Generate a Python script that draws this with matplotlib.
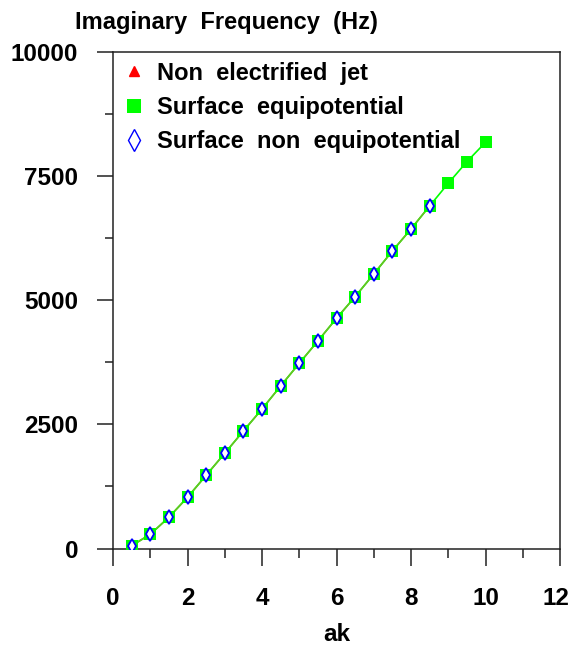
import matplotlib
matplotlib.use("Agg")
import matplotlib.pyplot as plt
import matplotlib.transforms as mtransforms
from matplotlib.lines import Line2D
from matplotlib.ticker import MultipleLocator

plt.rcParams['font.family'] = ['Liberation Sans', 'DejaVu Sans']
plt.rcParams['font.weight'] = 'bold'

# Data
ak_equi = [0.5, 1.0, 1.5, 2.0, 2.5, 3.0, 3.5, 4.0, 4.5, 5.0, 5.5, 6.0, 6.5, 7.0,
           7.5, 8.0, 8.5, 9.0, 9.5, 10.0]
freq_equi = [56, 286, 629, 1032, 1475, 1919, 2368, 2811, 3275, 3732, 4182, 4639,
             5075, 5532, 5996, 6439, 6903, 7360, 7795, 8186]
ak_nonequi = [0.5, 1.0, 1.5, 2.0, 2.5, 3.0, 3.5, 4.0, 4.5, 5.0, 5.5, 6.0, 6.5,
              7.0, 7.5, 8.0, 8.5]
freq_nonequi = [56, 286, 629, 1032, 1475, 1919, 2368, 2811, 3275, 3732, 4182,
                4639, 5075, 5532, 5996, 6439, 6903]
ak_nonelec = ak_nonequi
freq_nonelec = freq_nonequi

labels = ["Non  electrified  jet", "Surface  equipotential", "Surface  non  equipotential"]
xticks = [0, 2, 4, 6, 8, 10, 12]
yticks = [0, 2500, 5000, 7500, 10000]

fig = plt.figure(figsize=(5.7, 6.48), dpi=100)
ax = fig.add_axes([113/570, 1 - 548.5/648, (560 - 113)/570, (548.5 - 52.3)/648])

green = '#00ff00'
ax.plot(ak_equi, freq_equi, color=green, lw=1.2, zorder=2)
ax.plot(ak_nonelec, freq_nonelec, color='#66c322', lw=1.2, zorder=3)
ax.plot(ak_nonelec, freq_nonelec, ls='none', marker='^', color='red', ms=6, zorder=4)
ax.plot(ak_equi, freq_equi, ls='none', marker='s', color=green, ms=8.6, mew=0, zorder=5)
ax.plot(ak_nonequi, freq_nonequi, ls='none', marker='d', mfc='white', mec='blue',
        mew=1.3, ms=7.4, zorder=6)

ax.set_xlim(0, 12)
ax.set_ylim(0, 10000)
ax.set_xticks(xticks)
ax.set_yticks(yticks)
ax.xaxis.set_minor_locator(MultipleLocator(1))
ax.yaxis.set_minor_locator(MultipleLocator(1250))
ax.tick_params(axis='x', which='major', direction='out', length=12, width=1.1,
               pad=16, labelsize=17.5)
ax.tick_params(axis='x', which='minor', direction='out', length=6.5, width=1.1)
ax.tick_params(axis='y', which='major', direction='out', length=11.5, width=1.1,
               pad=13.5, labelsize=17.5)
ax.tick_params(axis='y', which='minor', direction='out', length=5.8, width=1.1)
for s in ax.spines.values():
    s.set_linewidth(1.1)
    s.set_color('#222222')
ax.tick_params(colors='#222222', which='both', labelcolor='black')

# nudge the last x tick label slightly left so it stays inside the figure
last_tick = ax.xaxis.get_major_ticks()[-1]
last_tick.label1.set_transform(
    last_tick.label1.get_transform()
    + mtransforms.ScaledTranslation(-4/100, 0, fig.dpi_scale_trans))

ax.set_xlabel('ak', fontsize=17.5, fontweight='bold', labelpad=9)
fig.text(75/570, 1 - 22/648, 'Imaginary  Frequency  (Hz)', fontsize=17,
         fontweight='bold', va='center', ha='left')

handles = [
    Line2D([], [], ls='none', marker='^', color='red', ms=7),
    Line2D([], [], ls='none', marker='s', color=green, ms=10.5, mew=0),
    Line2D([], [], ls='none', marker='d', mfc='white', mec='blue', mew=1.0, ms=11),
]
leg = ax.legend(handles, labels, loc='upper left', bbox_to_anchor=(0.0, 1.0),
                frameon=False, fontsize=17, handlelength=1.0, handletextpad=0.45,
                labelspacing=0.48, borderaxespad=0.0)
for t in leg.get_texts():
    t.set_fontweight('bold')

fig.savefig('out.png', dpi=100)
